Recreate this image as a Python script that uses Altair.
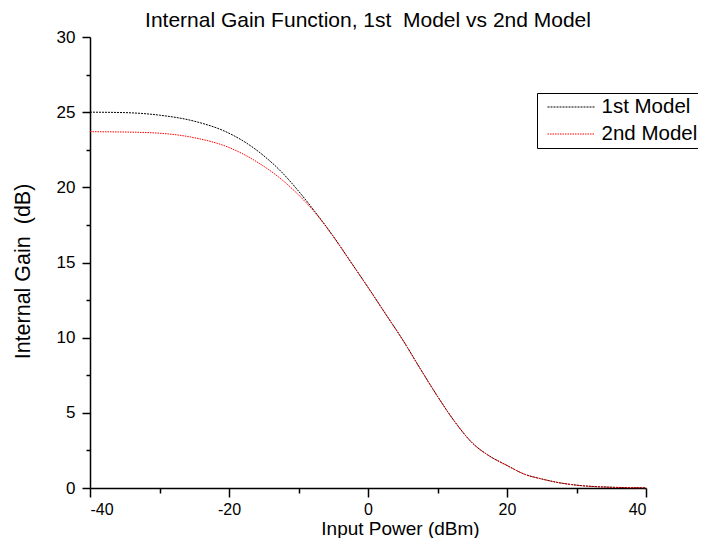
import altair as alt
import pandas as pd

# ---- data ----
x_vals = [-40, -35, -30, -25, -20, -17.5, -15, -12.5, -10, -7.5, -5, -2.5, 0,
          2.5, 5, 7.5, 10, 12.5, 15, 17.5, 20, 22.5, 25, 27.5, 30, 35, 40]
model1 = [25.0, 24.97, 24.8, 24.4, 23.6, 22.95, 22.1, 21.05, 19.75, 18.3, 16.75,
          15.05, 13.35, 11.6, 9.85, 7.95, 6.1, 4.4, 3.0, 2.12, 1.5, 0.92,
          0.6, 0.35, 0.19, 0.05, 0.01]
model2 = [23.7, 23.68, 23.6, 23.3, 22.65, 22.1, 21.4, 20.55, 19.5, 18.25, 16.72,
          15.05, 13.35, 11.6, 9.85, 7.95, 6.1, 4.4, 3.0, 2.12, 1.5, 0.92,
          0.6, 0.35, 0.19, 0.05, 0.01]
series_names = ["1st Model", "2nd Model"]
series_colors = ["#000000", "#ff0000"]
x_major = [-40, -20, 0, 20, 40]
x_minor = [-30, -10, 10, 30]
y_major = [0, 5, 10, 15, 20, 25, 30]
y_minor = [2.5, 7.5, 12.5, 17.5, 22.5, 27.5]

rows = []
for xv, a, b in zip(x_vals, model1, model2):
    rows.append({"x": xv, "y": a, "series": series_names[0]})
    rows.append({"x": xv, "y": b, "series": series_names[1]})
df = pd.DataFrame(rows)

FONT = "Liberation Sans"
xscale = alt.Scale(domain=[-40, 40], nice=False, zero=False)
yscale = alt.Scale(domain=[0, 30], nice=False, zero=False)

legend = alt.Legend(
    title=None, orient="none", legendX=447, legendY=56,
    strokeColor="black", fillColor="white", padding=3.5, cornerRadius=0,
    symbolType="stroke", symbolSize=2209, symbolStrokeWidth=1,
    clipHeight=21, rowPadding=6, symbolOffset=6.5, labelOffset=6.5,
    labelFont=FONT, labelFontSize=20.5, labelColor="black",
)

main = alt.Chart(df).mark_line(strokeWidth=1, interpolate="monotone").encode(
    x=alt.X("x:Q", scale=xscale, axis=alt.Axis(
        values=x_major, title="Input Power (dBm)", tickSize=9, labelPadding=4,
        labelFontSize=16,
        titleX=310, titleY=46.5, titleBaseline="alphabetic", titleAlign="center",
        titleFontSize=19, labelExpr="'' + datum.value")),
    y=alt.Y("y:Q", scale=yscale, axis=alt.Axis(
        values=y_major, title="Internal Gain\u00a0 (dB)", tickSize=8, labelPadding=7,
        titleX=-61, titleY=234, titleBaseline="alphabetic", titleAlign="center",
        titleAngle=270, labelExpr="'' + datum.value")),
    color=alt.Color("series:N", scale=alt.Scale(domain=series_names, range=series_colors),
                    legend=legend),
    strokeDash=alt.StrokeDash("series:N",
                              scale=alt.Scale(domain=series_names, range=[[2, 1], [1.5, 1]]),
                              legend=legend),
)

minor = alt.Chart(df).mark_point(opacity=0).encode(
    x=alt.X("x:Q", scale=xscale, axis=alt.Axis(
        values=x_minor, labels=False, domain=False, tickSize=5, title=None,
        orient="bottom")),
    y=alt.Y("y:Q", scale=yscale, axis=alt.Axis(
        values=y_minor, labels=False, domain=False, tickSize=4, title=None,
        orient="left")),
)

chart = alt.layer(main, minor).resolve_axis(
    x="independent", y="independent"
).properties(
    width=556, height=451,
    autosize=alt.AutoSizeParams(type="none"),
    padding={"left": 82, "top": 29, "right": 52, "bottom": 50},
    title=alt.TitleParams(
        text="Internal Gain Function, 1st\u00a0 Model vs 2nd Model",
        font=FONT, fontSize=21, fontWeight="normal", color="black",
        anchor="middle", frame="group", baseline="alphabetic", offset=1, dy=21),
).configure_view(stroke=None).configure_axis(
    grid=False, domainColor="black", domainWidth=1.5, tickColor="black",
    tickWidth=1.5, labelFont=FONT, labelFontSize=17, labelColor="black",
    titleFont=FONT, titleFontSize=21.5, titleColor="black", titleFontWeight="normal",
)

chart.save("out.html", embed_options={"renderer": "svg", "actions": False})
